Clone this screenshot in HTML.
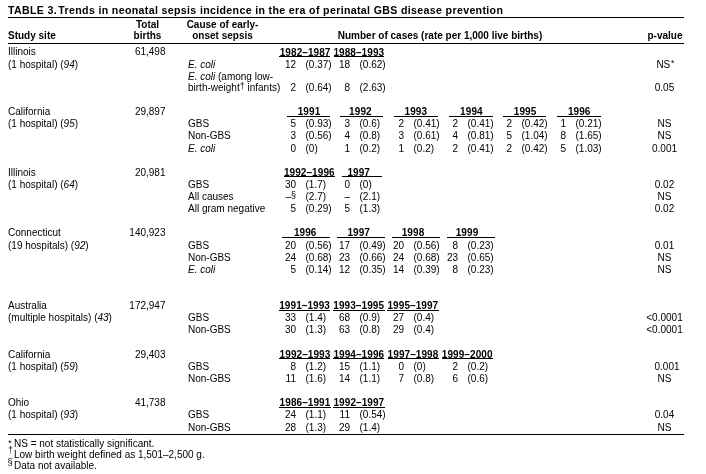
<!DOCTYPE html>
<html><head><meta charset="utf-8"><style>
html,body{margin:0;padding:0;background:#fff;}
body{width:706px;height:474px;position:relative;overflow:hidden;will-change:transform;font-family:"Liberation Sans",sans-serif;color:#000;}
.t{position:absolute;white-space:nowrap;line-height:1;}
.ln{position:absolute;background:#000;}
sup{vertical-align:baseline;position:relative;line-height:0;}
sup.a{font-size:8.5px;top:-1.5px;margin-left:0.8px;}
sup.d{font-size:9px;top:-2px;}
sup.s{font-size:9px;top:-2px;}
u{text-decoration:underline;text-underline-offset:1px;text-decoration-thickness:1px;}
</style></head><body>
<div class="t" style="left:8.00px;top:5.33px;font-size:10.6px;font-weight:bold;letter-spacing:0.35px;">TABLE 3.&#8202;Trends in neonatal sepsis incidence in the era of perinatal GBS disease prevention</div>
<div class="t" style="left:8.00px;top:30.54px;font-size:10px;font-weight:bold;">Study site</div>
<div class="t" style="left:147.50px;top:19.54px;font-size:10px;font-weight:bold;transform:translateX(-50%);">Total</div>
<div class="t" style="left:147.50px;top:30.54px;font-size:10px;font-weight:bold;transform:translateX(-50%);">births</div>
<div class="t" style="left:222.50px;top:19.54px;font-size:10px;font-weight:bold;transform:translateX(-50%);">Cause of early-</div>
<div class="t" style="left:222.50px;top:30.54px;font-size:10px;font-weight:bold;transform:translateX(-50%);">onset sepsis</div>
<div class="t" style="left:440.00px;top:30.54px;font-size:10px;font-weight:bold;transform:translateX(-50%);">Number of cases (rate per 1,000 live births)</div>
<div class="t" style="right:23.50px;top:30.54px;font-size:10px;font-weight:bold;">p-value</div>
<div class="t" style="left:8.00px;top:46.83px;font-size:10px;">Illinois</div>
<div class="t" style="left:8.00px;top:59.83px;font-size:10px;">(1 hospital) (<i>94</i>)</div>
<div class="t" style="right:540.50px;top:46.83px;font-size:10px;">61,498</div>
<div class="t" style="left:305.10px;top:47.83px;font-size:10px;font-weight:bold;transform:translateX(-50%);letter-spacing:0.08px;">1982&#8211;1987</div>
<div class="t" style="left:358.80px;top:47.83px;font-size:10px;font-weight:bold;transform:translateX(-50%);letter-spacing:0.08px;">1988&#8211;1993</div>
<div class="t" style="left:188.00px;top:59.83px;font-size:10px;"><i>E. coli</i></div>
<div class="t" style="right:410.00px;top:59.83px;font-size:10px;">12</div>
<div class="t" style="left:305.50px;top:59.83px;font-size:10px;">(0.37)</div>
<div class="t" style="right:356.00px;top:59.83px;font-size:10px;">18</div>
<div class="t" style="left:359.50px;top:59.83px;font-size:10px;">(0.62)</div>
<div class="t" style="left:665.40px;top:59.83px;font-size:10px;transform:translateX(-50%);">NS<sup class="a">*</sup></div>
<div class="t" style="left:188.00px;top:71.83px;font-size:10px;"><i>E. coli</i> (among low-</div>
<div class="t" style="left:188.00px;top:82.83px;font-size:10px;">birth-weight<sup class="d">&#8224;</sup> infants)</div>
<div class="t" style="right:410.00px;top:82.83px;font-size:10px;">2</div>
<div class="t" style="left:305.50px;top:82.83px;font-size:10px;">(0.64)</div>
<div class="t" style="right:356.00px;top:82.83px;font-size:10px;">8</div>
<div class="t" style="left:359.50px;top:82.83px;font-size:10px;">(2.63)</div>
<div class="t" style="left:664.50px;top:82.83px;font-size:10px;transform:translateX(-50%);">0.05</div>
<div class="t" style="left:8.00px;top:106.83px;font-size:10px;">California</div>
<div class="t" style="left:8.00px;top:118.83px;font-size:10px;">(1 hospital) (<i>95</i>)</div>
<div class="t" style="right:540.50px;top:106.83px;font-size:10px;">29,897</div>
<div class="t" style="left:309.00px;top:106.83px;font-size:10px;font-weight:bold;transform:translateX(-50%);letter-spacing:0.08px;">1991</div>
<div class="t" style="left:360.40px;top:106.83px;font-size:10px;font-weight:bold;transform:translateX(-50%);letter-spacing:0.08px;">1992</div>
<div class="t" style="left:415.80px;top:106.83px;font-size:10px;font-weight:bold;transform:translateX(-50%);letter-spacing:0.08px;">1993</div>
<div class="t" style="left:471.40px;top:106.83px;font-size:10px;font-weight:bold;transform:translateX(-50%);letter-spacing:0.08px;">1994</div>
<div class="t" style="left:525.10px;top:106.83px;font-size:10px;font-weight:bold;transform:translateX(-50%);letter-spacing:0.08px;">1995</div>
<div class="t" style="left:579.20px;top:106.83px;font-size:10px;font-weight:bold;transform:translateX(-50%);letter-spacing:0.08px;">1996</div>
<div class="t" style="left:188.00px;top:118.83px;font-size:10px;">GBS</div>
<div class="t" style="right:410.00px;top:118.83px;font-size:10px;">5</div>
<div class="t" style="left:305.50px;top:118.83px;font-size:10px;">(0.93)</div>
<div class="t" style="right:356.00px;top:118.83px;font-size:10px;">3</div>
<div class="t" style="left:359.50px;top:118.83px;font-size:10px;">(0.6)</div>
<div class="t" style="right:302.00px;top:118.83px;font-size:10px;">2</div>
<div class="t" style="left:413.50px;top:118.83px;font-size:10px;">(0.41)</div>
<div class="t" style="right:248.00px;top:118.83px;font-size:10px;">2</div>
<div class="t" style="left:467.50px;top:118.83px;font-size:10px;">(0.41)</div>
<div class="t" style="right:194.00px;top:118.83px;font-size:10px;">2</div>
<div class="t" style="left:521.50px;top:118.83px;font-size:10px;">(0.42)</div>
<div class="t" style="right:140.00px;top:118.83px;font-size:10px;">1</div>
<div class="t" style="left:575.50px;top:118.83px;font-size:10px;">(0.21)</div>
<div class="t" style="left:664.50px;top:118.83px;font-size:10px;transform:translateX(-50%);">NS</div>
<div class="t" style="left:188.00px;top:130.84px;font-size:10px;">Non-GBS</div>
<div class="t" style="right:410.00px;top:130.84px;font-size:10px;">3</div>
<div class="t" style="left:305.50px;top:130.84px;font-size:10px;">(0.56)</div>
<div class="t" style="right:356.00px;top:130.84px;font-size:10px;">4</div>
<div class="t" style="left:359.50px;top:130.84px;font-size:10px;">(0.8)</div>
<div class="t" style="right:302.00px;top:130.84px;font-size:10px;">3</div>
<div class="t" style="left:413.50px;top:130.84px;font-size:10px;">(0.61)</div>
<div class="t" style="right:248.00px;top:130.84px;font-size:10px;">4</div>
<div class="t" style="left:467.50px;top:130.84px;font-size:10px;">(0.81)</div>
<div class="t" style="right:194.00px;top:130.84px;font-size:10px;">5</div>
<div class="t" style="left:521.50px;top:130.84px;font-size:10px;">(1.04)</div>
<div class="t" style="right:140.00px;top:130.84px;font-size:10px;">8</div>
<div class="t" style="left:575.50px;top:130.84px;font-size:10px;">(1.65)</div>
<div class="t" style="left:664.50px;top:130.84px;font-size:10px;transform:translateX(-50%);">NS</div>
<div class="t" style="left:188.00px;top:143.84px;font-size:10px;"><i>E. coli</i></div>
<div class="t" style="right:410.00px;top:143.84px;font-size:10px;">0</div>
<div class="t" style="left:305.50px;top:143.84px;font-size:10px;">(0)</div>
<div class="t" style="right:356.00px;top:143.84px;font-size:10px;">1</div>
<div class="t" style="left:359.50px;top:143.84px;font-size:10px;">(0.2)</div>
<div class="t" style="right:302.00px;top:143.84px;font-size:10px;">1</div>
<div class="t" style="left:413.50px;top:143.84px;font-size:10px;">(0.2)</div>
<div class="t" style="right:248.00px;top:143.84px;font-size:10px;">2</div>
<div class="t" style="left:467.50px;top:143.84px;font-size:10px;">(0.41)</div>
<div class="t" style="right:194.00px;top:143.84px;font-size:10px;">2</div>
<div class="t" style="left:521.50px;top:143.84px;font-size:10px;">(0.42)</div>
<div class="t" style="right:140.00px;top:143.84px;font-size:10px;">5</div>
<div class="t" style="left:575.50px;top:143.84px;font-size:10px;">(1.03)</div>
<div class="t" style="left:664.50px;top:143.84px;font-size:10px;transform:translateX(-50%);">0.001</div>
<div class="t" style="left:8.00px;top:167.84px;font-size:10px;">Illinois</div>
<div class="t" style="left:8.00px;top:179.84px;font-size:10px;">(1 hospital) (<i>64</i>)</div>
<div class="t" style="right:540.50px;top:167.84px;font-size:10px;">20,981</div>
<div class="t" style="left:309.30px;top:167.84px;font-size:10px;font-weight:bold;transform:translateX(-50%);letter-spacing:0.08px;">1992&#8211;1996</div>
<div class="t" style="left:358.70px;top:167.84px;font-size:10px;font-weight:bold;transform:translateX(-50%);letter-spacing:0.08px;">1997</div>
<div class="t" style="left:188.00px;top:179.84px;font-size:10px;">GBS</div>
<div class="t" style="right:410.00px;top:179.84px;font-size:10px;">30</div>
<div class="t" style="left:305.50px;top:179.84px;font-size:10px;">(1.7)</div>
<div class="t" style="right:356.00px;top:179.84px;font-size:10px;">0</div>
<div class="t" style="left:359.50px;top:179.84px;font-size:10px;">(0)</div>
<div class="t" style="left:664.50px;top:179.84px;font-size:10px;transform:translateX(-50%);">0.02</div>
<div class="t" style="left:188.00px;top:191.84px;font-size:10px;">All causes</div>
<div class="t" style="right:410.00px;top:191.84px;font-size:10px;">&#8211;<sup class="s">&#167;</sup></div>
<div class="t" style="left:305.50px;top:191.84px;font-size:10px;">(2.7)</div>
<div class="t" style="right:356.00px;top:191.84px;font-size:10px;">&#8211;</div>
<div class="t" style="left:359.50px;top:191.84px;font-size:10px;">(2.1)</div>
<div class="t" style="left:664.50px;top:191.84px;font-size:10px;transform:translateX(-50%);">NS</div>
<div class="t" style="left:188.00px;top:203.84px;font-size:10px;">All gram negative</div>
<div class="t" style="right:410.00px;top:203.84px;font-size:10px;">5</div>
<div class="t" style="left:305.50px;top:203.84px;font-size:10px;">(0.29)</div>
<div class="t" style="right:356.00px;top:203.84px;font-size:10px;">5</div>
<div class="t" style="left:359.50px;top:203.84px;font-size:10px;">(1.3)</div>
<div class="t" style="left:664.50px;top:203.84px;font-size:10px;transform:translateX(-50%);">0.02</div>
<div class="t" style="left:8.00px;top:227.84px;font-size:10px;">Connecticut</div>
<div class="t" style="left:8.00px;top:240.84px;font-size:10px;">(19 hospitals) (<i>92</i>)</div>
<div class="t" style="right:540.50px;top:227.84px;font-size:10px;">140,923</div>
<div class="t" style="left:305.20px;top:227.84px;font-size:10px;font-weight:bold;transform:translateX(-50%);letter-spacing:0.08px;">1996</div>
<div class="t" style="left:358.70px;top:227.84px;font-size:10px;font-weight:bold;transform:translateX(-50%);letter-spacing:0.08px;">1997</div>
<div class="t" style="left:413.00px;top:227.84px;font-size:10px;font-weight:bold;transform:translateX(-50%);letter-spacing:0.08px;">1998</div>
<div class="t" style="left:467.00px;top:227.84px;font-size:10px;font-weight:bold;transform:translateX(-50%);letter-spacing:0.08px;">1999</div>
<div class="t" style="left:188.00px;top:240.84px;font-size:10px;">GBS</div>
<div class="t" style="right:410.00px;top:240.84px;font-size:10px;">20</div>
<div class="t" style="left:305.50px;top:240.84px;font-size:10px;">(0.56)</div>
<div class="t" style="right:356.00px;top:240.84px;font-size:10px;">17</div>
<div class="t" style="left:359.50px;top:240.84px;font-size:10px;">(0.49)</div>
<div class="t" style="right:302.00px;top:240.84px;font-size:10px;">20</div>
<div class="t" style="left:413.50px;top:240.84px;font-size:10px;">(0.56)</div>
<div class="t" style="right:248.00px;top:240.84px;font-size:10px;">8</div>
<div class="t" style="left:467.50px;top:240.84px;font-size:10px;">(0.23)</div>
<div class="t" style="left:664.50px;top:240.84px;font-size:10px;transform:translateX(-50%);">0.01</div>
<div class="t" style="left:188.00px;top:252.84px;font-size:10px;">Non-GBS</div>
<div class="t" style="right:410.00px;top:252.84px;font-size:10px;">24</div>
<div class="t" style="left:305.50px;top:252.84px;font-size:10px;">(0.68)</div>
<div class="t" style="right:356.00px;top:252.84px;font-size:10px;">23</div>
<div class="t" style="left:359.50px;top:252.84px;font-size:10px;">(0.66)</div>
<div class="t" style="right:302.00px;top:252.84px;font-size:10px;">24</div>
<div class="t" style="left:413.50px;top:252.84px;font-size:10px;">(0.68)</div>
<div class="t" style="right:248.00px;top:252.84px;font-size:10px;">23</div>
<div class="t" style="left:467.50px;top:252.84px;font-size:10px;">(0.65)</div>
<div class="t" style="left:664.50px;top:252.84px;font-size:10px;transform:translateX(-50%);">NS</div>
<div class="t" style="left:188.00px;top:264.84px;font-size:10px;"><i>E. coli</i></div>
<div class="t" style="right:410.00px;top:264.84px;font-size:10px;">5</div>
<div class="t" style="left:305.50px;top:264.84px;font-size:10px;">(0.14)</div>
<div class="t" style="right:356.00px;top:264.84px;font-size:10px;">12</div>
<div class="t" style="left:359.50px;top:264.84px;font-size:10px;">(0.35)</div>
<div class="t" style="right:302.00px;top:264.84px;font-size:10px;">14</div>
<div class="t" style="left:413.50px;top:264.84px;font-size:10px;">(0.39)</div>
<div class="t" style="right:248.00px;top:264.84px;font-size:10px;">8</div>
<div class="t" style="left:467.50px;top:264.84px;font-size:10px;">(0.23)</div>
<div class="t" style="left:664.50px;top:264.84px;font-size:10px;transform:translateX(-50%);">NS</div>
<div class="t" style="left:8.00px;top:300.84px;font-size:10px;">Australia</div>
<div class="t" style="left:8.00px;top:312.84px;font-size:10px;">(multiple hospitals) (<i>43</i>)</div>
<div class="t" style="right:540.50px;top:300.84px;font-size:10px;">172,947</div>
<div class="t" style="left:304.60px;top:300.84px;font-size:10px;font-weight:bold;transform:translateX(-50%);letter-spacing:0.08px;">1991&#8211;1993</div>
<div class="t" style="left:358.70px;top:300.84px;font-size:10px;font-weight:bold;transform:translateX(-50%);letter-spacing:0.08px;">1993&#8211;1995</div>
<div class="t" style="left:412.85px;top:300.84px;font-size:10px;font-weight:bold;transform:translateX(-50%);letter-spacing:0.08px;">1995&#8211;1997</div>
<div class="t" style="left:188.00px;top:312.84px;font-size:10px;">GBS</div>
<div class="t" style="right:410.00px;top:312.84px;font-size:10px;">33</div>
<div class="t" style="left:305.50px;top:312.84px;font-size:10px;">(1.4)</div>
<div class="t" style="right:356.00px;top:312.84px;font-size:10px;">68</div>
<div class="t" style="left:359.50px;top:312.84px;font-size:10px;">(0.9)</div>
<div class="t" style="right:302.00px;top:312.84px;font-size:10px;">27</div>
<div class="t" style="left:413.50px;top:312.84px;font-size:10px;">(0.4)</div>
<div class="t" style="left:664.50px;top:312.84px;font-size:10px;transform:translateX(-50%);">&lt;0.0001</div>
<div class="t" style="left:188.00px;top:324.84px;font-size:10px;">Non-GBS</div>
<div class="t" style="right:410.00px;top:324.84px;font-size:10px;">30</div>
<div class="t" style="left:305.50px;top:324.84px;font-size:10px;">(1.3)</div>
<div class="t" style="right:356.00px;top:324.84px;font-size:10px;">63</div>
<div class="t" style="left:359.50px;top:324.84px;font-size:10px;">(0.8)</div>
<div class="t" style="right:302.00px;top:324.84px;font-size:10px;">29</div>
<div class="t" style="left:413.50px;top:324.84px;font-size:10px;">(0.4)</div>
<div class="t" style="left:664.50px;top:324.84px;font-size:10px;transform:translateX(-50%);">&lt;0.0001</div>
<div class="t" style="left:8.00px;top:349.84px;font-size:10px;">California</div>
<div class="t" style="left:8.00px;top:361.84px;font-size:10px;">(1 hospital) (<i>59</i>)</div>
<div class="t" style="right:540.50px;top:349.84px;font-size:10px;">29,403</div>
<div class="t" style="left:305.00px;top:349.84px;font-size:10px;font-weight:bold;transform:translateX(-50%);letter-spacing:0.08px;">1992&#8211;1993</div>
<div class="t" style="left:358.80px;top:349.84px;font-size:10px;font-weight:bold;transform:translateX(-50%);letter-spacing:0.08px;">1994&#8211;1996</div>
<div class="t" style="left:413.00px;top:349.84px;font-size:10px;font-weight:bold;transform:translateX(-50%);letter-spacing:0.08px;">1997&#8211;1998</div>
<div class="t" style="left:467.20px;top:349.84px;font-size:10px;font-weight:bold;transform:translateX(-50%);letter-spacing:0.08px;">1999&#8211;2000</div>
<div class="t" style="left:188.00px;top:361.84px;font-size:10px;">GBS</div>
<div class="t" style="right:410.00px;top:361.84px;font-size:10px;">8</div>
<div class="t" style="left:305.50px;top:361.84px;font-size:10px;">(1.2)</div>
<div class="t" style="right:356.00px;top:361.84px;font-size:10px;">15</div>
<div class="t" style="left:359.50px;top:361.84px;font-size:10px;">(1.1)</div>
<div class="t" style="right:302.00px;top:361.84px;font-size:10px;">0</div>
<div class="t" style="left:413.50px;top:361.84px;font-size:10px;">(0)</div>
<div class="t" style="right:248.00px;top:361.84px;font-size:10px;">2</div>
<div class="t" style="left:467.50px;top:361.84px;font-size:10px;">(0.2)</div>
<div class="t" style="left:667.00px;top:361.84px;font-size:10px;transform:translateX(-50%);">0.001</div>
<div class="t" style="left:188.00px;top:373.84px;font-size:10px;">Non-GBS</div>
<div class="t" style="right:410.00px;top:373.84px;font-size:10px;">11</div>
<div class="t" style="left:305.50px;top:373.84px;font-size:10px;">(1.6)</div>
<div class="t" style="right:356.00px;top:373.84px;font-size:10px;">14</div>
<div class="t" style="left:359.50px;top:373.84px;font-size:10px;">(1.1)</div>
<div class="t" style="right:302.00px;top:373.84px;font-size:10px;">7</div>
<div class="t" style="left:413.50px;top:373.84px;font-size:10px;">(0.8)</div>
<div class="t" style="right:248.00px;top:373.84px;font-size:10px;">6</div>
<div class="t" style="left:467.50px;top:373.84px;font-size:10px;">(0.6)</div>
<div class="t" style="left:664.50px;top:373.84px;font-size:10px;transform:translateX(-50%);">NS</div>
<div class="t" style="left:8.00px;top:397.84px;font-size:10px;">Ohio</div>
<div class="t" style="left:8.00px;top:409.84px;font-size:10px;">(1 hospital) (<i>93</i>)</div>
<div class="t" style="right:540.50px;top:397.84px;font-size:10px;">41,738</div>
<div class="t" style="left:305.00px;top:397.84px;font-size:10px;font-weight:bold;transform:translateX(-50%);letter-spacing:0.08px;">1986&#8211;1991</div>
<div class="t" style="left:358.85px;top:397.84px;font-size:10px;font-weight:bold;transform:translateX(-50%);letter-spacing:0.08px;">1992&#8211;1997</div>
<div class="t" style="left:188.00px;top:409.84px;font-size:10px;">GBS</div>
<div class="t" style="right:410.00px;top:409.84px;font-size:10px;">24</div>
<div class="t" style="left:305.50px;top:409.84px;font-size:10px;">(1.1)</div>
<div class="t" style="right:356.00px;top:409.84px;font-size:10px;">11</div>
<div class="t" style="left:359.50px;top:409.84px;font-size:10px;">(0.54)</div>
<div class="t" style="left:664.50px;top:409.84px;font-size:10px;transform:translateX(-50%);">0.04</div>
<div class="t" style="left:188.00px;top:422.84px;font-size:10px;">Non-GBS</div>
<div class="t" style="right:410.00px;top:422.84px;font-size:10px;">28</div>
<div class="t" style="left:305.50px;top:422.84px;font-size:10px;">(1.3)</div>
<div class="t" style="right:356.00px;top:422.84px;font-size:10px;">29</div>
<div class="t" style="left:359.50px;top:422.84px;font-size:10px;">(1.4)</div>
<div class="t" style="left:664.50px;top:422.84px;font-size:10px;transform:translateX(-50%);">NS</div>
<div class="t" style="left:14.00px;top:438.84px;font-size:10px;">NS = not statistically significant.</div>
<div class="t" style="left:14.00px;top:449.84px;font-size:10px;">Low birth weight defined as 1,501&#8211;2,500 g.</div>
<div class="t" style="left:14.00px;top:460.84px;font-size:10px;">Data not available.</div>
<div class="t" style="left:8.30px;top:439.10px;font-size:8.5px;">*</div>
<div class="t" style="left:8.20px;top:446.20px;font-size:8.5px;">&#8224;</div>
<div class="t" style="left:7.60px;top:457.51px;font-size:9.2px;">&#167;</div>
<div class="ln" style="left:8.00px;top:16.50px;width:676.00px;height:1px"></div>
<div class="ln" style="left:8.00px;top:42.50px;width:676.00px;height:1px"></div>
<div class="ln" style="left:279.20px;top:56.00px;width:51.30px;height:1px"></div>
<div class="ln" style="left:333.60px;top:56.00px;width:50.40px;height:1px"></div>
<div class="ln" style="left:287.00px;top:116.00px;width:43.00px;height:1px"></div>
<div class="ln" style="left:340.10px;top:116.00px;width:42.80px;height:1px"></div>
<div class="ln" style="left:394.20px;top:116.00px;width:43.60px;height:1px"></div>
<div class="ln" style="left:449.10px;top:116.00px;width:43.50px;height:1px"></div>
<div class="ln" style="left:502.80px;top:116.00px;width:43.00px;height:1px"></div>
<div class="ln" style="left:557.20px;top:116.00px;width:43.70px;height:1px"></div>
<div class="ln" style="left:283.80px;top:176.00px;width:51.00px;height:1px"></div>
<div class="ln" style="left:342.10px;top:176.00px;width:39.60px;height:1px"></div>
<div class="ln" style="left:282.10px;top:237.00px;width:47.60px;height:1px"></div>
<div class="ln" style="left:337.00px;top:237.00px;width:47.60px;height:1px"></div>
<div class="ln" style="left:392.10px;top:237.00px;width:47.60px;height:1px"></div>
<div class="ln" style="left:447.00px;top:237.00px;width:47.60px;height:1px"></div>
<div class="ln" style="left:279.30px;top:310.00px;width:50.60px;height:1px"></div>
<div class="ln" style="left:332.80px;top:310.00px;width:51.80px;height:1px"></div>
<div class="ln" style="left:387.00px;top:310.00px;width:51.70px;height:1px"></div>
<div class="ln" style="left:279.30px;top:358.00px;width:50.80px;height:1px"></div>
<div class="ln" style="left:333.30px;top:358.00px;width:51.00px;height:1px"></div>
<div class="ln" style="left:387.50px;top:358.00px;width:51.00px;height:1px"></div>
<div class="ln" style="left:441.70px;top:358.00px;width:51.00px;height:1px"></div>
<div class="ln" style="left:279.20px;top:407.00px;width:51.60px;height:1px"></div>
<div class="ln" style="left:333.10px;top:407.00px;width:51.50px;height:1px"></div>
<div class="ln" style="left:8.00px;top:433.50px;width:676.00px;height:1px"></div>
</body></html>
